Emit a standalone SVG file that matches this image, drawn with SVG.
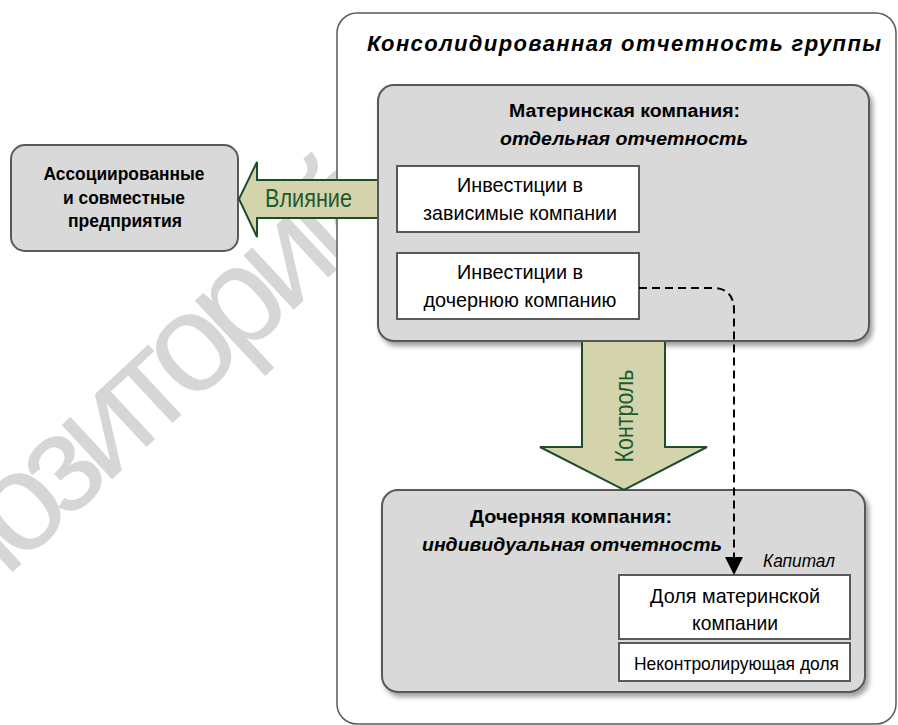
<svg xmlns="http://www.w3.org/2000/svg" width="898" height="725" viewBox="0 0 898 725">
  <defs>
    <filter id="shadow" x="-10%" y="-10%" width="125%" height="130%">
      <feDropShadow dx="3" dy="4" stdDeviation="2.5" flood-color="#000" flood-opacity="0.38"/>
    </filter>
    <marker id="ah" viewBox="0 0 10 10" refX="0" refY="5" markerWidth="18" markerHeight="18" markerUnits="userSpaceOnUse" orient="auto">
      <path d="M0,0 L10,5 L0,10 Z" fill="#000"/>
    </marker>
    <style>
      .box { fill: #d9d9d9; stroke: #595959; stroke-width: 2; }
      .white { fill: #ffffff; stroke: #595959; stroke-width: 2; }
      .frame { fill: #ffffff; stroke: #595959; stroke-width: 1.5; }
      .bold { font-family: "Liberation Sans", Arial, sans-serif; font-weight: bold; font-size: 18px; fill: #000; text-anchor: middle; }
      .bi { font-family: "Liberation Sans", Arial, sans-serif; font-weight: bold; font-style: italic; font-size: 18px; fill: #000; text-anchor: middle; }
      .reg { font-family: "Liberation Sans Narrow", "Liberation Sans", Arial, sans-serif; font-size: 21px; fill: #000; text-anchor: middle; }
      .big { font-family: "Liberation Sans Narrow", "Liberation Sans", Arial, sans-serif; font-size: 25px; fill: #1e5a30; text-anchor: middle; }
      .block { fill: #d3d4ac; stroke: #1d4e2a; stroke-width: 2; stroke-linejoin: miter; }
      .dash { fill: none; stroke: #000; stroke-width: 2; stroke-dasharray: 8 5; }
      .wm { font-family: "Liberation Sans", Arial, sans-serif; font-size: 140px; letter-spacing: -12px; fill: #d6d6d6; }
    </style>
  </defs>

  <text class="wm" transform="translate(-130,705) rotate(-43)" x="0" y="0">Репозиторий</text>

  <g id="group-frame">
    <rect class="frame" x="337" y="13" width="559" height="711" rx="20"/>
    <text x="624" y="51" textLength="514" lengthAdjust="spacing" style="font-family:'Liberation Sans', Arial, sans-serif; font-weight:bold; font-style:italic; font-size:22px; text-anchor:middle; fill:#000;">Консолидированная отчетность группы</text>
  </g>

  <g id="associates">
    <rect class="box" x="11" y="145" width="227" height="106" rx="14"/>
    <text class="bold" x="124" y="180" textLength="161" lengthAdjust="spacingAndGlyphs">Ассоциированные</text>
    <text class="bold" x="124" y="204" textLength="122" lengthAdjust="spacingAndGlyphs">и совместные</text>
    <text class="bold" x="125" y="227" textLength="114" lengthAdjust="spacingAndGlyphs">предприятия</text>
  </g>

  <g id="parent">
    <rect class="box" x="378" y="85" width="491" height="256" rx="16" filter="url(#shadow)"/>
    <text class="bold" x="624.5" y="117" textLength="231" lengthAdjust="spacingAndGlyphs">Материнская компания:</text>
    <text class="bi" x="624" y="145" textLength="248" lengthAdjust="spacingAndGlyphs">отдельная отчетность</text>
  </g>

  <g id="inv-associates">
    <rect class="white" x="397" y="166" width="242" height="66"/>
    <text class="reg" x="520" y="192" textLength="126" lengthAdjust="spacingAndGlyphs">Инвестиции в</text>
    <text class="reg" x="520" y="220" textLength="194" lengthAdjust="spacingAndGlyphs">зависимые компании</text>
  </g>

  <g id="inv-subsidiary">
    <rect class="white" x="397" y="253" width="242" height="66"/>
    <text class="reg" x="520" y="279" textLength="126" lengthAdjust="spacingAndGlyphs">Инвестиции в</text>
    <text class="reg" x="520" y="307" textLength="193" lengthAdjust="spacingAndGlyphs">дочернюю компанию</text>
  </g>

  <g id="subsidiary">
    <rect class="box" x="382" y="490" width="483" height="202" rx="16" filter="url(#shadow)"/>
    <text class="bold" x="571" y="523" textLength="202" lengthAdjust="spacingAndGlyphs">Дочерняя компания:</text>
    <text class="bi" x="572" y="551" textLength="300" lengthAdjust="spacingAndGlyphs">индивидуальная отчетность</text>
    <text x="799" y="567" textLength="72" lengthAdjust="spacingAndGlyphs" style="font-family:'Liberation Sans', Arial, sans-serif; font-style:italic; font-size:18px; text-anchor:middle; fill:#000;">Капитал</text>
  </g>

  <g id="parent-share">
    <rect class="white" x="619" y="575" width="231" height="64"/>
    <text class="reg" x="735" y="603" textLength="170" lengthAdjust="spacingAndGlyphs">Доля материнской</text>
    <text class="reg" x="735" y="630" textLength="86" lengthAdjust="spacingAndGlyphs">компании</text>
  </g>

  <g id="nci">
    <rect class="white" x="619" y="643" width="231" height="38"/>
    <text class="reg" x="736.5" y="670" textLength="205" lengthAdjust="spacingAndGlyphs" style="font-size:19px">Неконтролирующая доля</text>
  </g>

  <g id="connectors">
    <g id="influence">
      <path class="block" d="M377,180 H257 V162 L239,199 L257,237 V218 H377"/>
      <text class="big" x="308.5" y="207" textLength="87" lengthAdjust="spacingAndGlyphs">Влияние</text>
    </g>
    <g id="control">
      <path class="block" d="M582,342 V447 H540 L624,490 L707,447 H665 V342"/>
      <text class="big" transform="translate(633,416) rotate(-90)" x="0" y="0" textLength="93" lengthAdjust="spacingAndGlyphs">Контроль</text>
    </g>
    <path class="dash" d="M639,288 H712 Q734,288 734,310 V557" marker-end="url(#ah)"/>
  </g>
</svg>
